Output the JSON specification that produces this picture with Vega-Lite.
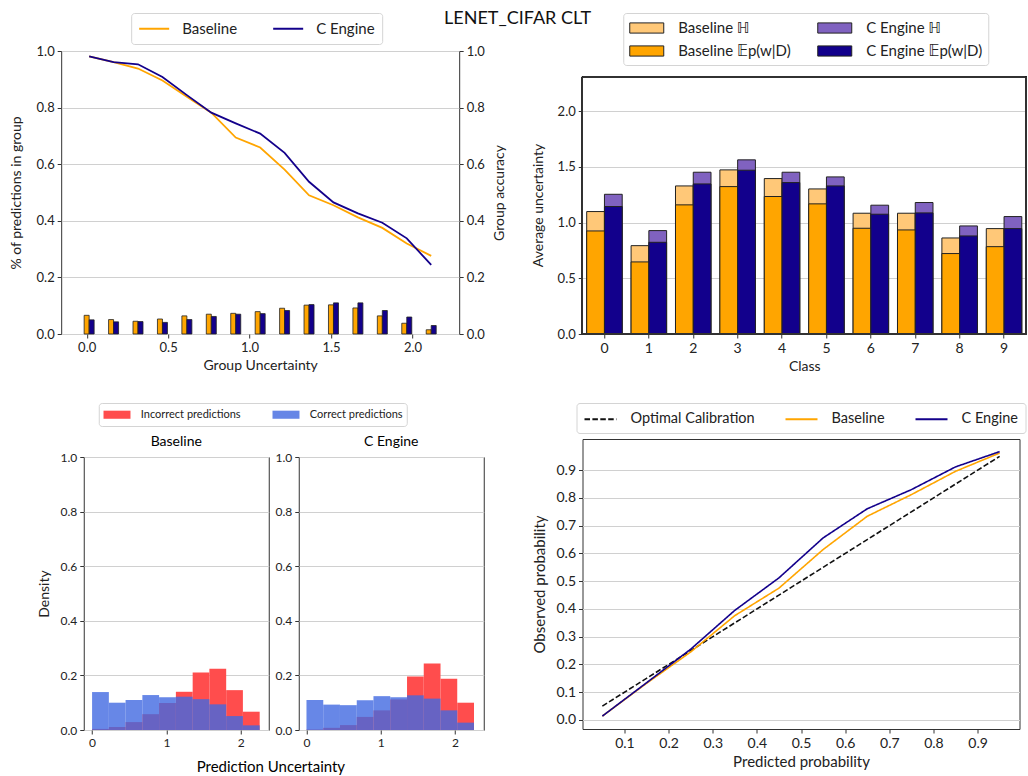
{
  "$schema": "https://vega.github.io/schema/vega-lite/v6.json",
  "padding": {"left": 8, "top": 10, "right": 0, "bottom": 0},
  "title": {"text": "LENET_CIFAR CLT", "fontSize": 18, "fontWeight": "normal", "font": "Lato", "anchor": "middle", "offset": -16, "color": "#111"},
  "config": {
    "font": "Lato",
    "view": {"stroke": "#333", "strokeWidth": 1},
    "axis": {"labelFont": "Lato", "titleFont": "Lato", "labelFontSize": 13, "titleFontSize": 14, "titleFontWeight": "normal", "labelColor": "#222", "titleColor": "#222", "tickColor": "#333", "domain": false, "tickSize": 4, "labelPadding": 3, "gridColor": "#d0d0d0", "gridWidth": 1},
    "axisX": {"grid": false},
    "axisY": {"grid": true},
    "legend": {"labelFont": "Lato, DejaVu Sans", "labelColor": "#222", "fillColor": "white", "strokeColor": "#d4d4d4", "cornerRadius": 3},
    "title": {"font": "Lato", "fontWeight": "normal"}
  },
  "datasets": {
    "groups": [
      {"u": 0.015, "model": "Baseline", "frac": 0.066, "acc": 0.981},
      {"u": 0.165, "model": "Baseline", "frac": 0.051, "acc": 0.961},
      {"u": 0.315, "model": "Baseline", "frac": 0.045, "acc": 0.938},
      {"u": 0.465, "model": "Baseline", "frac": 0.053, "acc": 0.896},
      {"u": 0.615, "model": "Baseline", "frac": 0.064, "acc": 0.838},
      {"u": 0.765, "model": "Baseline", "frac": 0.070, "acc": 0.782},
      {"u": 0.915, "model": "Baseline", "frac": 0.073, "acc": 0.694},
      {"u": 1.065, "model": "Baseline", "frac": 0.079, "acc": 0.659},
      {"u": 1.215, "model": "Baseline", "frac": 0.091, "acc": 0.581},
      {"u": 1.365, "model": "Baseline", "frac": 0.102, "acc": 0.490},
      {"u": 1.515, "model": "Baseline", "frac": 0.103, "acc": 0.455},
      {"u": 1.665, "model": "Baseline", "frac": 0.092, "acc": 0.412},
      {"u": 1.815, "model": "Baseline", "frac": 0.064, "acc": 0.375},
      {"u": 1.965, "model": "Baseline", "frac": 0.038, "acc": 0.320},
      {"u": 2.115, "model": "Baseline", "frac": 0.015, "acc": 0.276},
      {"u": 0.015, "model": "C Engine", "frac": 0.050, "acc": 0.981},
      {"u": 0.165, "model": "C Engine", "frac": 0.043, "acc": 0.961},
      {"u": 0.315, "model": "C Engine", "frac": 0.044, "acc": 0.953},
      {"u": 0.465, "model": "C Engine", "frac": 0.041, "acc": 0.908},
      {"u": 0.615, "model": "C Engine", "frac": 0.051, "acc": 0.844},
      {"u": 0.765, "model": "C Engine", "frac": 0.062, "acc": 0.782},
      {"u": 0.915, "model": "C Engine", "frac": 0.070, "acc": 0.744},
      {"u": 1.065, "model": "C Engine", "frac": 0.072, "acc": 0.708},
      {"u": 1.215, "model": "C Engine", "frac": 0.083, "acc": 0.640},
      {"u": 1.365, "model": "C Engine", "frac": 0.104, "acc": 0.538},
      {"u": 1.515, "model": "C Engine", "frac": 0.110, "acc": 0.465},
      {"u": 1.665, "model": "C Engine", "frac": 0.110, "acc": 0.426},
      {"u": 1.815, "model": "C Engine", "frac": 0.083, "acc": 0.393},
      {"u": 1.965, "model": "C Engine", "frac": 0.060, "acc": 0.338},
      {"u": 2.115, "model": "C Engine", "frac": 0.030, "acc": 0.244}
    ],
    "classes": [
      {"cls": "0", "model": "Baseline", "H": 1.099, "E": 0.925, "hLabel": "Baseline ℍ", "eLabel": "Baseline 𝔼p(w|D)"},
      {"cls": "0", "model": "C Engine", "H": 1.254, "E": 1.144, "hLabel": "C Engine ℍ", "eLabel": "C Engine 𝔼p(w|D)"},
      {"cls": "1", "model": "Baseline", "H": 0.793, "E": 0.647, "hLabel": "Baseline ℍ", "eLabel": "Baseline 𝔼p(w|D)"},
      {"cls": "1", "model": "C Engine", "H": 0.928, "E": 0.823, "hLabel": "C Engine ℍ", "eLabel": "C Engine 𝔼p(w|D)"},
      {"cls": "2", "model": "Baseline", "H": 1.329, "E": 1.159, "hLabel": "Baseline ℍ", "eLabel": "Baseline 𝔼p(w|D)"},
      {"cls": "2", "model": "C Engine", "H": 1.452, "E": 1.347, "hLabel": "C Engine ℍ", "eLabel": "C Engine 𝔼p(w|D)"},
      {"cls": "3", "model": "Baseline", "H": 1.473, "E": 1.323, "hLabel": "Baseline ℍ", "eLabel": "Baseline 𝔼p(w|D)"},
      {"cls": "3", "model": "C Engine", "H": 1.563, "E": 1.470, "hLabel": "C Engine ℍ", "eLabel": "C Engine 𝔼p(w|D)"},
      {"cls": "4", "model": "Baseline", "H": 1.395, "E": 1.234, "hLabel": "Baseline ℍ", "eLabel": "Baseline 𝔼p(w|D)"},
      {"cls": "4", "model": "C Engine", "H": 1.452, "E": 1.359, "hLabel": "C Engine ℍ", "eLabel": "C Engine 𝔼p(w|D)"},
      {"cls": "5", "model": "Baseline", "H": 1.302, "E": 1.168, "hLabel": "Baseline ℍ", "eLabel": "Baseline 𝔼p(w|D)"},
      {"cls": "5", "model": "C Engine", "H": 1.410, "E": 1.329, "hLabel": "C Engine ℍ", "eLabel": "C Engine 𝔼p(w|D)"},
      {"cls": "6", "model": "Baseline", "H": 1.084, "E": 0.949, "hLabel": "Baseline ℍ", "eLabel": "Baseline 𝔼p(w|D)"},
      {"cls": "6", "model": "C Engine", "H": 1.156, "E": 1.075, "hLabel": "C Engine ℍ", "eLabel": "C Engine 𝔼p(w|D)"},
      {"cls": "7", "model": "Baseline", "H": 1.084, "E": 0.934, "hLabel": "Baseline ℍ", "eLabel": "Baseline 𝔼p(w|D)"},
      {"cls": "7", "model": "C Engine", "H": 1.180, "E": 1.087, "hLabel": "C Engine ℍ", "eLabel": "C Engine 𝔼p(w|D)"},
      {"cls": "8", "model": "Baseline", "H": 0.862, "E": 0.722, "hLabel": "Baseline ℍ", "eLabel": "Baseline 𝔼p(w|D)"},
      {"cls": "8", "model": "C Engine", "H": 0.970, "E": 0.880, "hLabel": "C Engine ℍ", "eLabel": "C Engine 𝔼p(w|D)"},
      {"cls": "9", "model": "Baseline", "H": 0.946, "E": 0.784, "hLabel": "Baseline ℍ", "eLabel": "Baseline 𝔼p(w|D)"},
      {"cls": "9", "model": "C Engine", "H": 1.054, "E": 0.946, "hLabel": "C Engine ℍ", "eLabel": "C Engine 𝔼p(w|D)"}
    ],
    "hist": [
      {"panel": "Baseline", "kind": "Incorrect predictions", "x0": 0.000, "x1": 0.226, "d": 0.004},
      {"panel": "Baseline", "kind": "Incorrect predictions", "x0": 0.226, "x1": 0.451, "d": 0.011},
      {"panel": "Baseline", "kind": "Incorrect predictions", "x0": 0.451, "x1": 0.677, "d": 0.029},
      {"panel": "Baseline", "kind": "Incorrect predictions", "x0": 0.677, "x1": 0.902, "d": 0.058},
      {"panel": "Baseline", "kind": "Incorrect predictions", "x0": 0.902, "x1": 1.128, "d": 0.099},
      {"panel": "Baseline", "kind": "Incorrect predictions", "x0": 1.128, "x1": 1.354, "d": 0.140},
      {"panel": "Baseline", "kind": "Incorrect predictions", "x0": 1.354, "x1": 1.579, "d": 0.211},
      {"panel": "Baseline", "kind": "Incorrect predictions", "x0": 1.579, "x1": 1.805, "d": 0.224},
      {"panel": "Baseline", "kind": "Incorrect predictions", "x0": 1.805, "x1": 2.030, "d": 0.146},
      {"panel": "Baseline", "kind": "Incorrect predictions", "x0": 2.030, "x1": 2.256, "d": 0.067},
      {"panel": "Baseline", "kind": "Correct predictions", "x0": 0.000, "x1": 0.226, "d": 0.139},
      {"panel": "Baseline", "kind": "Correct predictions", "x0": 0.226, "x1": 0.451, "d": 0.100},
      {"panel": "Baseline", "kind": "Correct predictions", "x0": 0.451, "x1": 0.677, "d": 0.110},
      {"panel": "Baseline", "kind": "Correct predictions", "x0": 0.677, "x1": 0.902, "d": 0.128},
      {"panel": "Baseline", "kind": "Correct predictions", "x0": 0.902, "x1": 1.128, "d": 0.120},
      {"panel": "Baseline", "kind": "Correct predictions", "x0": 1.128, "x1": 1.354, "d": 0.122},
      {"panel": "Baseline", "kind": "Correct predictions", "x0": 1.354, "x1": 1.579, "d": 0.113},
      {"panel": "Baseline", "kind": "Correct predictions", "x0": 1.579, "x1": 1.805, "d": 0.094},
      {"panel": "Baseline", "kind": "Correct predictions", "x0": 1.805, "x1": 2.030, "d": 0.051},
      {"panel": "Baseline", "kind": "Correct predictions", "x0": 2.030, "x1": 2.256, "d": 0.017},
      {"panel": "C Engine", "kind": "Incorrect predictions", "x0": 0.000, "x1": 0.226, "d": 0.002},
      {"panel": "C Engine", "kind": "Incorrect predictions", "x0": 0.226, "x1": 0.451, "d": 0.008},
      {"panel": "C Engine", "kind": "Incorrect predictions", "x0": 0.451, "x1": 0.677, "d": 0.018},
      {"panel": "C Engine", "kind": "Incorrect predictions", "x0": 0.677, "x1": 0.902, "d": 0.048},
      {"panel": "C Engine", "kind": "Incorrect predictions", "x0": 0.902, "x1": 1.128, "d": 0.072},
      {"panel": "C Engine", "kind": "Incorrect predictions", "x0": 1.128, "x1": 1.354, "d": 0.112},
      {"panel": "C Engine", "kind": "Incorrect predictions", "x0": 1.354, "x1": 1.579, "d": 0.196},
      {"panel": "C Engine", "kind": "Incorrect predictions", "x0": 1.579, "x1": 1.805, "d": 0.244},
      {"panel": "C Engine", "kind": "Incorrect predictions", "x0": 1.805, "x1": 2.030, "d": 0.188},
      {"panel": "C Engine", "kind": "Incorrect predictions", "x0": 2.030, "x1": 2.256, "d": 0.100},
      {"panel": "C Engine", "kind": "Correct predictions", "x0": 0.000, "x1": 0.226, "d": 0.110},
      {"panel": "C Engine", "kind": "Correct predictions", "x0": 0.226, "x1": 0.451, "d": 0.093},
      {"panel": "C Engine", "kind": "Correct predictions", "x0": 0.451, "x1": 0.677, "d": 0.091},
      {"panel": "C Engine", "kind": "Correct predictions", "x0": 0.677, "x1": 0.902, "d": 0.109},
      {"panel": "C Engine", "kind": "Correct predictions", "x0": 0.902, "x1": 1.128, "d": 0.124},
      {"panel": "C Engine", "kind": "Correct predictions", "x0": 1.128, "x1": 1.354, "d": 0.120},
      {"panel": "C Engine", "kind": "Correct predictions", "x0": 1.354, "x1": 1.579, "d": 0.127},
      {"panel": "C Engine", "kind": "Correct predictions", "x0": 1.579, "x1": 1.805, "d": 0.115},
      {"panel": "C Engine", "kind": "Correct predictions", "x0": 1.805, "x1": 2.030, "d": 0.072},
      {"panel": "C Engine", "kind": "Correct predictions", "x0": 2.030, "x1": 2.256, "d": 0.027}
    ],
    "calib": [
      {"p": 0.05, "obs": 0.05, "series": "Optimal Calibration"},
      {"p": 0.15, "obs": 0.15, "series": "Optimal Calibration"},
      {"p": 0.25, "obs": 0.25, "series": "Optimal Calibration"},
      {"p": 0.35, "obs": 0.35, "series": "Optimal Calibration"},
      {"p": 0.45, "obs": 0.45, "series": "Optimal Calibration"},
      {"p": 0.55, "obs": 0.55, "series": "Optimal Calibration"},
      {"p": 0.65, "obs": 0.65, "series": "Optimal Calibration"},
      {"p": 0.75, "obs": 0.75, "series": "Optimal Calibration"},
      {"p": 0.85, "obs": 0.85, "series": "Optimal Calibration"},
      {"p": 0.95, "obs": 0.95, "series": "Optimal Calibration"},
      {"p": 0.05, "obs": 0.014, "series": "Baseline"},
      {"p": 0.15, "obs": 0.132, "series": "Baseline"},
      {"p": 0.25, "obs": 0.245, "series": "Baseline"},
      {"p": 0.35, "obs": 0.376, "series": "Baseline"},
      {"p": 0.45, "obs": 0.475, "series": "Baseline"},
      {"p": 0.55, "obs": 0.614, "series": "Baseline"},
      {"p": 0.65, "obs": 0.734, "series": "Baseline"},
      {"p": 0.75, "obs": 0.812, "series": "Baseline"},
      {"p": 0.85, "obs": 0.896, "series": "Baseline"},
      {"p": 0.95, "obs": 0.962, "series": "Baseline"},
      {"p": 0.05, "obs": 0.014, "series": "C Engine"},
      {"p": 0.15, "obs": 0.134, "series": "C Engine"},
      {"p": 0.25, "obs": 0.255, "series": "C Engine"},
      {"p": 0.35, "obs": 0.395, "series": "C Engine"},
      {"p": 0.45, "obs": 0.512, "series": "C Engine"},
      {"p": 0.55, "obs": 0.656, "series": "C Engine"},
      {"p": 0.65, "obs": 0.761, "series": "C Engine"},
      {"p": 0.75, "obs": 0.830, "series": "C Engine"},
      {"p": 0.85, "obs": 0.912, "series": "C Engine"},
      {"p": 0.95, "obs": 0.967, "series": "C Engine"}
    ]
  },
  "resolve": {"scale": {"color": "independent", "opacity": "independent", "strokeDash": "independent"}, "legend": {"color": "independent", "opacity": "independent", "strokeDash": "independent"}},
  "spacing": 24,
  "hconcat": [
    {
      "spacing": 29,
      "center": true,
      "resolve": {"scale": {"color": "independent", "opacity": "independent"}, "legend": {"color": "independent", "opacity": "independent"}},
      "vconcat": [
        {
          "width": 398,
          "height": 283,
          "data": {"name": "groups"},
          "encoding": {
            "x": {"field": "u", "type": "quantitative", "scale": {"domain": [-0.126, 2.256], "nice": false, "zero": false}, "axis": {"title": "Group Uncertainty", "values": [0, 0.5, 1, 1.5, 2], "format": ".1f"}}
          },
          "layer": [
            {
              "layer": [
                {
                  "transform": [{"filter": "datum.model === 'Baseline'"}],
                  "mark": {"type": "bar", "width": 5, "xOffset": -2.5, "stroke": "#222", "strokeWidth": 0.8},
                  "encoding": {
                    "y": {"field": "frac", "type": "quantitative", "scale": {"domain": [0, 1], "nice": false}, "axis": {"title": "% of predictions in group", "values": [0, 0.2, 0.4, 0.6, 0.8, 1], "format": ".1f", "titlePadding": 13}},
                    "color": {"field": "model", "type": "nominal", "scale": {"domain": ["Baseline", "C Engine"], "range": ["#FFA500", "#13008B"]}}
                  }
                },
                {
                  "transform": [{"filter": "datum.model === 'C Engine'"}],
                  "mark": {"type": "bar", "width": 5, "xOffset": 2.5, "stroke": "#222", "strokeWidth": 0.8},
                  "encoding": {
                    "y": {"field": "frac", "type": "quantitative", "title": "% of predictions in group"},
                    "color": {"field": "model", "type": "nominal"}
                  }
                }
              ]
            },
            {
              "mark": {"type": "line", "strokeWidth": 1.8},
              "encoding": {
                "y": {"field": "acc", "type": "quantitative", "scale": {"domain": [0, 1], "nice": false}, "axis": {"orient": "right", "title": "Group accuracy", "grid": false, "values": [0, 0.2, 0.4, 0.6, 0.8, 1], "format": ".1f", "titlePadding": 8, "titleAngle": 270, "titleBaseline": "top"}},
                "color": {"field": "model", "type": "nominal", "legend": {"title": null, "orient": "none", "legendX": 70, "legendY": -38, "direction": "horizontal", "symbolType": "M-1,0H3", "symbolSize": 225, "symbolStrokeWidth": 2, "labelFontSize": 15, "labelOffset": 27, "columnPadding": 32, "padding": 7}}
              }
            }
          ],
          "resolve": {"scale": {"y": "independent"}}
        },
        {
          "title": {"text": "Prediction Uncertainty", "orient": "bottom", "anchor": "middle", "fontSize": 15, "fontWeight": "normal", "offset": 11, "dx": 10},
          "spacing": 4,
          "data": {"name": "hist"},
          "hconcat": [
            {
              "width": 185,
              "height": 273,
              "title": {"text": "Baseline", "fontSize": 14, "fontWeight": "normal", "offset": 2},
              "transform": [{"filter": "datum.panel === 'Baseline'"}],
              "encoding": {
                "x": {"field": "x0", "type": "quantitative", "scale": {"domain": [-0.112, 2.378], "nice": false, "zero": false}, "axis": {"title": null, "values": [0, 1, 2], "format": "d", "labelFontSize": 12}},
                "x2": {"field": "x1"},
                "y": {"field": "d", "type": "quantitative", "stack": null, "scale": {"domain": [0, 1], "nice": false}, "axis": {"title": "Density", "titleFontSize": 14, "values": [0, 0.2, 0.4, 0.6, 0.8, 1], "format": ".1f", "labelFontSize": 12, "titlePadding": 8}},
                "y2": {"datum": 0},
                "color": {"field": "kind", "type": "ordinal", "scale": {"domain": ["Incorrect predictions", "Correct predictions"], "range": ["#FF4D4D", "#4169E1"]}, "legend": {"title": null, "orient": "none", "legendX": 15, "legendY": -54, "direction": "horizontal", "symbolType": "M-1,-0.6H3V0.6H-1Z", "symbolSize": 182, "labelFontSize": 11, "labelOffset": 23, "columnPadding": 28, "padding": 4}},
                "opacity": {"field": "kind", "type": "ordinal", "scale": {"domain": ["Incorrect predictions", "Correct predictions"], "range": [1, 0.8]}, "legend": {"title": null, "orient": "none", "legendX": 15, "legendY": -54, "direction": "horizontal", "symbolType": "M-1,-0.6H3V0.6H-1Z", "symbolSize": 182, "labelFontSize": 11, "labelOffset": 23, "columnPadding": 28, "padding": 4}}
              },
              "layer": [
                {"transform": [{"filter": "datum.kind === 'Incorrect predictions'"}], "mark": {"type": "bar"}},
                {"transform": [{"filter": "datum.kind === 'Correct predictions'"}], "mark": {"type": "bar"}}
              ]
            },
            {
              "width": 185,
              "height": 273,
              "title": {"text": "C Engine", "fontSize": 14, "fontWeight": "normal", "offset": 2},
              "transform": [{"filter": "datum.panel === 'C Engine'"}],
              "encoding": {
                "x": {"field": "x0", "type": "quantitative", "scale": {"domain": [-0.104, 2.387], "nice": false, "zero": false}, "axis": {"title": null, "values": [0, 1, 2], "format": "d", "labelFontSize": 12}},
                "x2": {"field": "x1"},
                "y": {"field": "d", "type": "quantitative", "stack": null, "scale": {"domain": [0, 1], "nice": false}, "axis": {"title": null, "values": [0, 0.2, 0.4, 0.6, 0.8, 1], "format": ".1f", "labelFontSize": 12}},
                "y2": {"datum": 0},
                "color": {"field": "kind", "type": "ordinal"},
                "opacity": {"field": "kind", "type": "ordinal"}
              },
              "layer": [
                {"transform": [{"filter": "datum.kind === 'Incorrect predictions'"}], "mark": {"type": "bar"}},
                {"transform": [{"filter": "datum.kind === 'Correct predictions'"}], "mark": {"type": "bar"}}
              ]
            }
          ]
        }
      ]
    },
    {
      "spacing": 29,
      "center": true,
      "resolve": {"scale": {"color": "independent", "strokeDash": "independent"}, "legend": {"color": "independent", "strokeDash": "independent"}},
      "vconcat": [
        {
          "width": 444,
          "height": 283,
          "view": {"stroke": null},
          "data": {"name": "classes"},
          "layer": [
            {
              "encoding": {
                "x": {"field": "cls", "type": "nominal", "scale": {"paddingInner": 0.2, "paddingOuter": 0.1}, "axis": {"title": "Class", "labelAngle": 0, "bandPosition": 0.5, "labelFontSize": 14}},
                "xOffset": {"field": "model", "type": "nominal", "scale": {"domain": ["Baseline", "C Engine"], "paddingInner": 0, "paddingOuter": 0}}
              },
              "layer": [
                {
                  "mark": {"type": "bar", "stroke": "#222", "strokeWidth": 1},
                  "encoding": {
                    "y": {"field": "H", "type": "quantitative", "stack": null, "scale": {"domain": [0, 2.54], "nice": false}, "axis": {"title": "Average uncertainty", "values": [0, 0.5, 1, 1.5, 2], "format": ".1f", "titlePadding": 12, "titleY": 154}},
                    "color": {"field": "hLabel", "type": "nominal", "scale": {"domain": ["Baseline ℍ", "Baseline 𝔼p(w|D)", "C Engine ℍ", "C Engine 𝔼p(w|D)"], "range": ["#FFC878", "#FFA500", "#8062C0", "#12008C"]}, "legend": {"title": null, "orient": "none", "legendX": 41, "legendY": -38, "columns": 2, "symbolType": "M-1,-0.6H3V0.6H-1Z", "symbolSize": 289, "symbolStrokeColor": "#222", "symbolStrokeWidth": 1, "labelFontSize": 15, "labelOffset": 31, "columnPadding": 24, "rowPadding": 6, "padding": 6}}
                  }
                },
                {
                  "mark": {"type": "bar", "stroke": "#222", "strokeWidth": 1},
                  "encoding": {
                    "y": {"field": "E", "type": "quantitative", "stack": null, "title": "Average uncertainty"},
                    "color": {"field": "eLabel", "type": "nominal"}
                  }
                }
              ]
            },
            {
              "mark": {"type": "rule", "color": "#333", "strokeWidth": 1},
              "encoding": {"y": {"datum": 2.307, "type": "quantitative"}}
            },
            {
              "mark": {"type": "rule", "color": "#333", "strokeWidth": 1},
              "encoding": {"y": {"datum": 0, "type": "quantitative"}}
            },
            {
              "layer": [
                {
                  "mark": {"type": "rule", "color": "#333", "strokeWidth": 1},
                  "encoding": {
                    "x": {"datum": 0, "type": "quantitative", "scale": {"domain": [0, 1], "nice": false, "zero": false}, "axis": null},
                    "y": {"datum": 0, "type": "quantitative"},
                    "y2": {"datum": 2.307}
                  }
                },
                {
                  "mark": {"type": "rule", "color": "#333", "strokeWidth": 1},
                  "encoding": {
                    "x": {"datum": 1, "type": "quantitative"},
                    "y": {"datum": 0, "type": "quantitative"},
                    "y2": {"datum": 2.307}
                  }
                }
              ]
            }
          ],
          "resolve": {"scale": {"x": "independent"}}
        },
        {
          "width": 437,
          "height": 290,
          "data": {"name": "calib"},
          "mark": {"type": "line", "strokeWidth": 1.6},
          "encoding": {
            "x": {"field": "p", "type": "quantitative", "scale": {"domain": [0.005, 0.995], "nice": false, "zero": false}, "axis": {"title": "Predicted probability", "values": [0.1, 0.2, 0.3, 0.4, 0.5, 0.6, 0.7, 0.8, 0.9], "format": ".1f", "labelFontSize": 14, "titleFontSize": 15}},
            "y": {"field": "obs", "type": "quantitative", "scale": {"domain": [-0.0325, 1.0125], "nice": false, "zero": false}, "axis": {"title": "Observed probability", "values": [0, 0.1, 0.2, 0.3, 0.4, 0.5, 0.6, 0.7, 0.8, 0.9], "format": ".1f", "labelFontSize": 14, "titleFontSize": 15, "titlePadding": 8}},
            "color": {"field": "series", "type": "nominal", "scale": {"domain": ["Optimal Calibration", "Baseline", "C Engine"], "range": ["#111111", "#FFA500", "#13008B"]}, "legend": {"title": null, "orient": "none", "legendX": -6, "legendY": -36, "direction": "horizontal", "symbolType": "M-1,0H3", "symbolSize": 256, "symbolStrokeWidth": 2, "labelFontSize": 14.5, "labelOffset": 29, "columnPadding": 26, "padding": 7}},
            "strokeDash": {"field": "series", "type": "nominal", "scale": {"domain": ["Optimal Calibration", "Baseline", "C Engine"], "range": [[5.5, 2.4], [1, 0], [1, 0]]}, "legend": {"title": null, "orient": "none", "legendX": -6, "legendY": -36, "direction": "horizontal", "symbolType": "M-1,0H3", "symbolSize": 256, "symbolStrokeWidth": 2, "labelFontSize": 14.5, "labelOffset": 29, "columnPadding": 26, "padding": 7}}
          }
        }
      ]
    }
  ]
}
